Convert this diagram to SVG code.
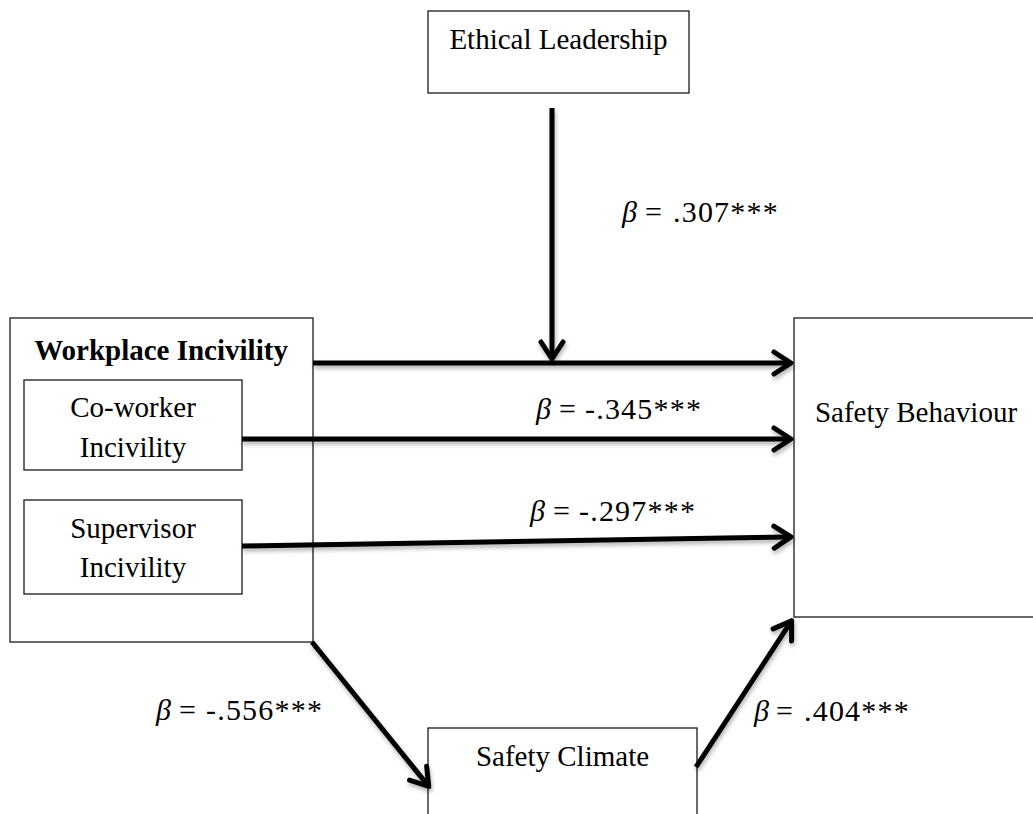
<svg xmlns="http://www.w3.org/2000/svg" width="1033" height="814" viewBox="0 0 1033 814">
<style>
.box{fill:#fff;stroke:#1a1a1a;stroke-width:1.3}
.t{font-family:"Liberation Serif","Times New Roman",serif;font-size:29px;fill:#000}
.l{font-size:30px}
.n{letter-spacing:1.2px}
.tc{text-anchor:middle}
.b{font-weight:bold}
.beta{font-style:italic}
.conn{fill:none;stroke:#000;stroke-width:5;marker-end:url(#arr)}
</style>
<defs>
<marker id="arr" markerUnits="userSpaceOnUse" markerWidth="40" markerHeight="40" viewBox="-20 -20 40 40" refX="0" refY="0" orient="auto" overflow="visible">
<path d="M-14,-11 L3,0 L-14,11" fill="none" stroke="#000" stroke-width="5" stroke-linejoin="round" stroke-linecap="round"/>
</marker>
<filter id="sh" x="-10%" y="-10%" width="120%" height="130%">
<feDropShadow dx="1" dy="3" stdDeviation="2" flood-color="#000" flood-opacity="0.3"/>
</filter>
</defs>
<rect width="1033" height="814" fill="#fff"/>

<g id="ethical-leadership">
<rect class="box" x="428" y="11" width="261" height="82"/>
<text class="t tc" x="558.5" y="49">Ethical Leadership</text>
</g>

<g id="workplace-incivility">
<rect class="box" x="10" y="318" width="303" height="324"/>
<text class="t tc b" x="161" y="360">Workplace Incivility</text>
</g>

<g id="coworker-incivility">
<rect class="box" x="24" y="380" width="218" height="90"/>
<text class="t tc" x="133" y="417">Co-worker</text>
<text class="t tc" x="133" y="457">Incivility</text>
</g>

<g id="supervisor-incivility">
<rect class="box" x="24" y="500" width="218" height="94"/>
<text class="t tc" x="133" y="538">Supervisor</text>
<text class="t tc" x="133" y="577">Incivility</text>
</g>

<g id="safety-behaviour">
<rect class="box" x="794" y="318" width="244" height="299"/>
<text class="t tc" x="916" y="422">Safety Behaviour</text>
</g>

<g id="safety-climate">
<rect class="box" x="428" y="728" width="269" height="100"/>
<text class="t tc" x="562.5" y="766">Safety Climate</text>
</g>

<g id="connectors" filter="url(#sh)">
<path class="conn" d="M313,363 L788,363"/>
<path class="conn" d="M242,439 L788,439"/>
<path class="conn" d="M242,546 L788,537"/>
<path class="conn" d="M552,108 L552,356"/>
<path class="conn" d="M312,642 L426.9,784.1"/>
<path class="conn" d="M696,767 L790,623.2"/>
</g>

<g id="labels">
<text class="t l" y="222"><tspan class="beta" x="622">β</tspan><tspan x="645">=</tspan><tspan class="n" x="673">.307***</tspan></text>
<text class="t l" y="419"><tspan class="beta" x="536">β</tspan><tspan x="559">=</tspan><tspan class="n" x="585">-.345***</tspan></text>
<text class="t l" y="521"><tspan class="beta" x="530">β</tspan><tspan x="553">=</tspan><tspan class="n" x="579">-.297***</tspan></text>
<text class="t l" y="720"><tspan class="beta" x="156">β</tspan><tspan x="179">=</tspan><tspan class="n" x="206">-.556***</tspan></text>
<text class="t l" y="721"><tspan class="beta" x="754">β</tspan><tspan x="776">=</tspan><tspan class="n" x="804">.404***</tspan></text>
</g>
</svg>
